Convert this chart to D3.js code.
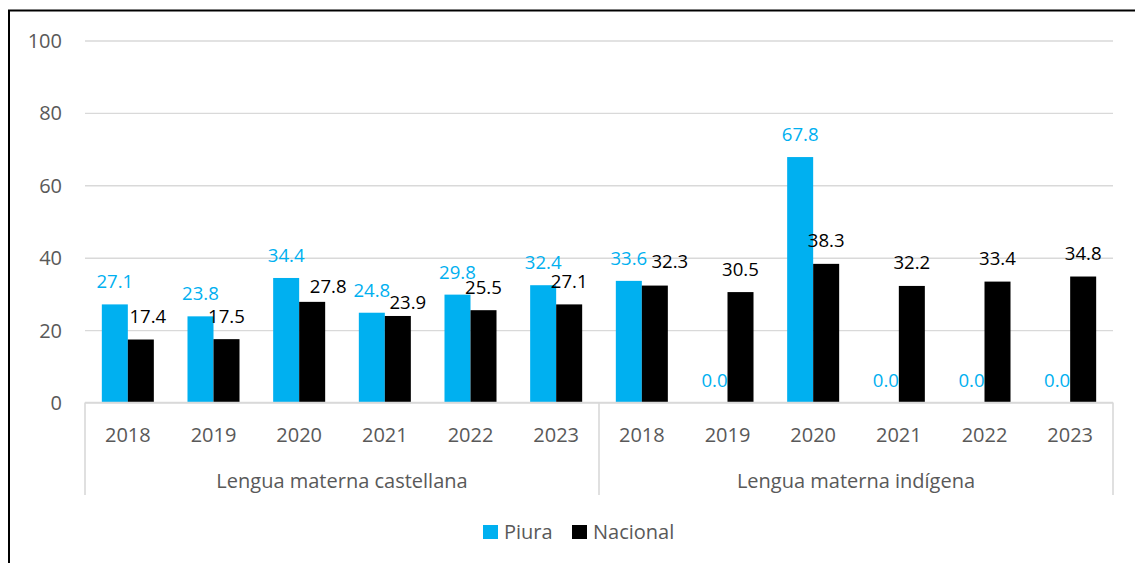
<!DOCTYPE html>
<html>
<head>
<meta charset="utf-8">
<script src="https://cdn.jsdelivr.net/npm/d3@7"></script>
<style>
  body { margin: 0; background: #fff; }
  svg text { font-family: "Open Sans", "Noto Sans", sans-serif; }
</style>
</head>
<body>
<script>
// chart data
var years = ["2018", "2019", "2020", "2021", "2022", "2023"];
var groups = ["Lengua materna castellana", "Lengua materna indígena"];
var seriesNames = ["Piura", "Nacional"];
var piura = [27.1, 23.8, 34.4, 24.8, 29.8, 32.4, 33.6, 0.0, 67.8, 0.0, 0.0, 0.0];
var nacional = [17.4, 17.5, 27.8, 23.9, 25.5, 27.1, 32.3, 30.5, 38.3, 32.2, 33.4, 34.8];
var yTicks = [0, 20, 40, 60, 80, 100];

// hand-moved labels in the original (dx, dy)
var natLabelNudge = { 0: [7, 0], 2: [16, 8], 3: [10, 10], 6: [15, -1] };

var colors = { Piura: "#00B0F0", Nacional: "#000000" };

var w = 1135, h = 563;
var pdL = 85, pdR = 1113, yTop = 40.5, yBot = 402.5;

var svg = d3.select("body").append("svg")
    .attr("width", w)
    .attr("height", h);

// outer border (chart area cut at right/bottom)
svg.append("rect")
   .attr("x", 9).attr("y", 10.5)
   .attr("width", w + 20).attr("height", h + 20)
   .attr("fill", "none").attr("stroke", "#000").attr("stroke-width", 2);

// one row per category
var rows = [];
groups.forEach(function(g, gi) {
    years.forEach(function(y, yi) {
        var i = gi * years.length + yi;
        rows.push({ key: i, year: y, group: g, Piura: piura[i], Nacional: nacional[i] });
    });
});

var x0 = d3.scaleBand()
    .domain(rows.map(function(d) { return d.key; }))
    .range([pdL, pdR])
    .padding(0);

var x1 = d3.scaleBand()
    .domain(seriesNames)
    .range([0, x0.bandwidth()])
    .paddingInner(0)
    .paddingOuter(0.647);

var y = d3.scaleLinear().domain([0, 100]).range([yBot, yTop]);

// gridlines + y labels
var axisY = d3.axisLeft(y)
    .tickValues(yTicks)
    .tickSize(-(pdR - pdL))
    .tickPadding(23);

var gy = svg.append("g")
    .attr("transform", "translate(" + pdL + ",0)")
    .call(axisY);
gy.select(".domain").remove();
gy.selectAll(".tick line")
  .attr("stroke", "#d9d9d9").attr("stroke-width", 1.4);
gy.selectAll(".tick text")
  .attr("fill", "#595959").attr("font-size", 20).attr("dy", "0.35em");

// bars
var catG = svg.selectAll(".cat")
    .data(rows)
    .enter().append("g")
    .attr("class", "cat")
    .attr("transform", function(d) { return "translate(" + x0(d.key) + ",0)"; });

catG.selectAll("rect")
    .data(function(d) { return seriesNames.map(function(s) { return { s: s, v: d[s], key: d.key }; }); })
    .enter().append("rect")
    .attr("x", function(d) { return x1(d.s); })
    .attr("y", function(d) { return y(d.v); })
    .attr("width", x1.bandwidth())
    .attr("height", function(d) { return yBot - y(d.v); })
    .attr("fill", function(d) { return colors[d.s]; });

// data labels
catG.selectAll("text.lbl")
    .data(function(d) { return seriesNames.map(function(s) { return { s: s, v: d[s], key: d.key }; }); })
    .enter().append("text")
    .attr("class", "lbl")
    .attr("text-anchor", "middle")
    .attr("font-size", 18.6)
    .attr("fill", function(d) { return colors[d.s]; })
    .attr("x", function(d) {
        var dx = (d.s === "Nacional" && natLabelNudge[d.key]) ? natLabelNudge[d.key][0] : 0;
        return x1(d.s) + x1.bandwidth() / 2 + dx;
    })
    .attr("y", function(d) {
        var dy = (d.s === "Nacional" && natLabelNudge[d.key]) ? natLabelNudge[d.key][1] : 0;
        var off = d.s === "Piura" ? 22.5 : 23;
        return y(d.v) - off + dy;
    })
    .attr("dy", "0.35em")
    .text(function(d) { return d3.format(".1f")(d.v); });

// x axis (years)
var axisX = d3.axisBottom(x0)
    .tickSize(0)
    .tickPadding(0)
    .tickFormat(function(k) { return rows[k].year; });

var gx = svg.append("g")
    .attr("transform", "translate(0," + yBot + ")")
    .call(axisX);
gx.select(".domain").remove();
gx.selectAll(".tick text")
  .attr("fill", "#595959").attr("font-size", 20)
  .attr("dy", null).attr("y", 39);

// baseline
svg.append("line")
   .attr("x1", pdL).attr("x2", pdR)
   .attr("y1", yBot).attr("y2", yBot)
   .attr("stroke", "#d9d9d9").attr("stroke-width", 1.6);

// group separators
var sepX = [x0(0), x0(years.length), x0(rows.length - 1) + x0.bandwidth()];
svg.selectAll(".sep")
   .data(sepX)
   .enter().append("line")
   .attr("x1", function(d) { return d; }).attr("x2", function(d) { return d; })
   .attr("y1", yBot).attr("y2", 495)
   .attr("stroke", "#d9d9d9").attr("stroke-width", 1.6);

// group labels
svg.selectAll(".grp")
   .data(groups)
   .enter().append("text")
   .attr("text-anchor", "middle")
   .attr("font-size", 20)
   .attr("fill", "#595959")
   .attr("x", function(d, i) {
       return (x0(i * years.length) + x0((i + 1) * years.length - 1) + x0.bandwidth()) / 2;
   })
   .attr("y", 488)
   .text(function(d) { return d; });

// legend
var leg = [{ s: "Piura", x: 483 }, { s: "Nacional", x: 572 }];
var lg = svg.selectAll(".leg")
    .data(leg)
    .enter().append("g");
lg.append("rect")
  .attr("x", function(d) { return d.x; })
  .attr("y", 525)
  .attr("width", 15).attr("height", 14)
  .attr("fill", function(d) { return colors[d.s]; });
lg.append("text")
  .attr("x", function(d) { return d.x + 21; })
  .attr("y", 539)
  .attr("font-size", 20)
  .attr("fill", "#595959")
  .text(function(d) { return d.s; });
</script>
</body>
</html>
